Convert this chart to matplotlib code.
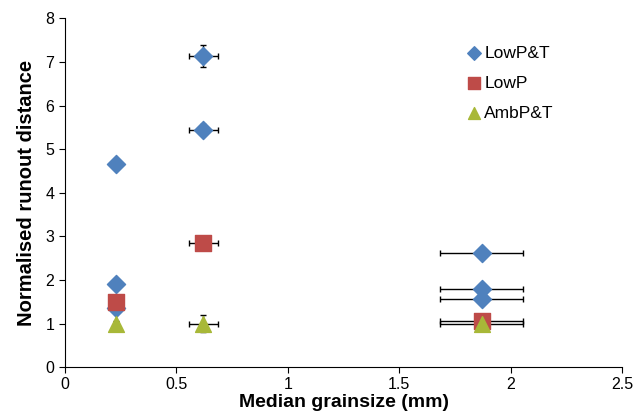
import matplotlib
matplotlib.use("Agg")
import matplotlib.pyplot as plt

plt.rcParams['font.family'] = ['Liberation Sans', 'DejaVu Sans']

# LowP&T
lpt_x = [0.23, 0.23, 0.23, 0.62, 0.62, 1.87, 1.87, 1.87]
lpt_y = [4.66, 1.90, 1.35, 7.13, 5.45, 2.62, 1.80, 1.57]
lpt_xerr = [0.0, 0.0, 0.0, 0.065, 0.065, 0.186, 0.186, 0.186]
lpt_yerr = [0.0, 0.0, 0.0, 0.25, 0.12, 0.0, 0.0, 0.0]
# LowP
lp_x = [0.23, 0.62, 1.87]
lp_y = [1.50, 2.85, 1.05]
lp_xerr = [0.0, 0.065, 0.186]
lp_yerr = [0.0, 0.0, 0.0]
# AmbP&T
amb_x = [0.23, 0.62, 1.87]
amb_y = [1.00, 1.00, 1.00]
amb_xerr = [0.0, 0.065, 0.186]
amb_yerr = [0.06, 0.2, 0.0]

fig = plt.figure(figsize=(6.35, 4.2), dpi=100)
ax = fig.add_axes([0.102, 0.126, 0.878, 0.83])

eb = dict(fmt='none', ecolor='black', elinewidth=1.0, capsize=2.5, capthick=1.0, zorder=2)
ax.errorbar(lpt_x, lpt_y, xerr=lpt_xerr, yerr=lpt_yerr, **eb)
ax.errorbar(lp_x, lp_y, xerr=lp_xerr, yerr=lp_yerr, **eb)
ax.errorbar(amb_x, amb_y, xerr=amb_xerr, yerr=amb_yerr, **eb)

ax.scatter(lpt_x, lpt_y, marker='D', s=85, color='#4F81BD', label='LowP&T', zorder=3)
ax.scatter(lp_x, lp_y, marker='s', s=130, color='#BE4B48', label='LowP', zorder=4)
ax.scatter(amb_x, amb_y, marker='^', s=130, color='#A8B838', label='AmbP&T', zorder=5)

ax.set_xlim(0, 2.5)
ax.set_ylim(0, 8)
ax.set_xticks([0, 0.5, 1, 1.5, 2, 2.5])
ax.set_xticklabels(['0', '0.5', '1', '1.5', '2', '2.5'])
ax.set_yticks(range(0, 9))
for s in ['top', 'right']:
    ax.spines[s].set_visible(False)
ax.tick_params(labelsize=11.5, direction='out', length=4)
ax.set_xlabel('Median grainsize (mm)', fontsize=14, fontweight='bold', labelpad=1)
ax.set_ylabel('Normalised runout distance', fontsize=14.5, fontweight='bold', labelpad=7)

ax.legend(loc='upper left', bbox_to_anchor=(0.69, 0.967), frameon=False, fontsize=12.5,
          handletextpad=0.1, labelspacing=0.85, markerscale=0.75, handlelength=1)

fig.savefig('out.png', dpi=100)
